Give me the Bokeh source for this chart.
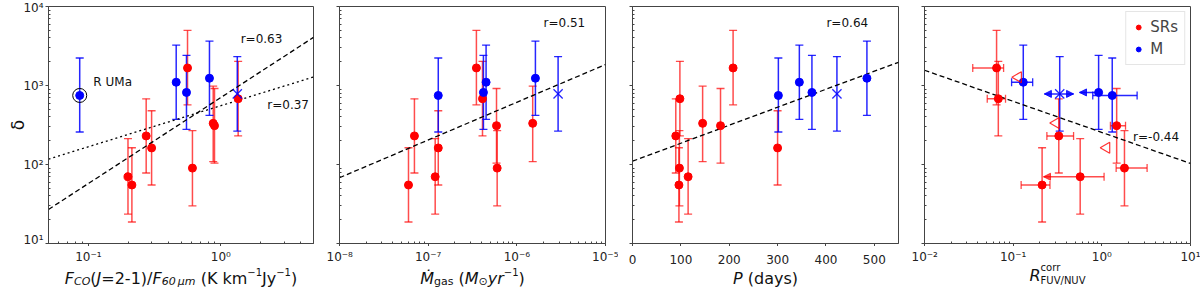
import math
from bokeh.plotting import figure
from bokeh.models import (Range1d, FixedTicker, CustomJSTickFormatter, Whisker, TeeHead,
                          NormalHead, ColumnDataSource, Label, Legend, LegendItem)
from bokeh.layouts import row, column
from bokeh.embed import file_html
from bokeh.resources import INLINE

# ---------------- data ----------------
# SR (semi-regular) stars: delta and its error range
sr_delta = [70, 55, 230, 162, 1668, 90, 332, 310, 680]
sr_delta_lo = [23.6, 18.7, 78, 55, 569, 30, 109, 104, 230]
sr_delta_hi = [212, 163, 678, 479, 4980, 268, 980, 916, 2024]
sr_fco = [0.199, 0.213, 0.273, 0.30, 0.56, 0.61, 0.875, 0.895, 1.35]
sr_mdot = [1.2e-7, 6.0e-8, 7.0e-8, 1.3e-7, 3.5e-7, 6.0e-7, 1.51e-6, 5.9e-7, 4.1e-7]
sr_period = [115, 96, 89.5, 300, 208, 97, 145, 182, 98]

# Mira stars (index 0 = R UMa)
m_delta = [748, 1100, 817, 1236]
m_delta_lo = [258, 372, 279, 419]
m_delta_hi = [2230, 3250, 2410, 3650]
m_fco = [0.086, 0.46, 0.55, 0.82]
m_mdot = [1.3e-7, 4.5e-7, 4.2e-7, 1.62e-6]
m_period = [301.6, 345, 371, 484.7]

# Mira plotted with an 'x' marker
mx_delta = [783]
mx_delta_lo = [265]
mx_delta_hi = [2323]
mx_fco = [1.33]
mx_mdot = [2.92e-6]
mx_period = [422.7]
mx_uv = [0.335]
mx_uv_lo = [0.225]
mx_uv_hi = [0.48]

# UV ratio panel
uv_sr_idx = [4, 8, 2, 7, 5, 1, 0]
uv_sr_x = [0.065, 0.068, 0.327, 1.47, 1.80, 0.212, 0.57]
uv_sr_xlo = [0.035, 0.051, 0.24, 1.25, 1.45, 0.123, 0.22]
uv_sr_xhi = [0.078, 0.082, 0.48, 1.85, 3.24, 0.26, 1.06]
uv_sr_lo_limit = [False, False, False, False, False, False, True]
uv_m_idx = [1, 2, 0]
uv_m_x = [0.13, 0.92, 1.31]
uv_m_xlo = [0.096, 0.56, 0.79]
uv_m_xhi = [0.166, 0.92, 2.5]
uv_m_lo_limit = [False, True, False]
uv_lim_x = [0.114, 0.305, 1.13]
uv_lim_y = [1275, 335, 163]

# fitted relations (end points)
fit_fco_x = [0.05, 5]
fit_fco_y = [27, 4065]
fit2_fco_y = [117, 1282]
fit_mdot_x = [1e-8, 1e-5]
fit_mdot_y = [68, 1842]
fit_period_x = [0, 550]
fit_period_y = [110, 1968]
fit_uv_x = [0.01, 10]
fit_uv_y = [1560, 103]

# tick labels
y_ticks = [10, 100, 1000, 10000]
y_labels = ["10¹", "10²", "10³", "10⁴"]
fco_ticks = [0.1, 1]
fco_labels = ["10⁻¹", "10⁰"]
mdot_ticks = [1e-8, 1e-7, 1e-6, 1e-5]
mdot_labels = ["10⁻⁸", "10⁻⁷", "10⁻⁶", "10⁻⁵"]
period_ticks = [0, 100, 200, 300, 400, 500]
period_labels = ["0", "100", "200", "300", "400", "500"]
uv_ticks = [0.01, 0.1, 1, 10]
uv_labels = ["10⁻²", "10⁻¹", "10⁰", "10¹"]

RED = "#ff0000"
BLUE = "#0000ff"
FONT = "DejaVu Sans"
FRAME = "#444444"
DASH = "5 3"
DOT = "2 3"
EMPTY = CustomJSTickFormatter(code='return "";')


def minor_log(e0, e1):
    return [m * 10.0 ** e for e in range(e0, e1) for m in range(2, 10)]


def fmt(tv, tl):
    return CustomJSTickFormatter(args=dict(tv=tv, tl=tl), code="""
        for (let i = 0; i < tv.length; i++) {
            if (Math.abs(tick - tv[i]) <= 1e-6 * Math.abs(tv[i])) return tl[i];
        }
        return "";
    """)


def style_axis(ax):
    ax.axis_line_color = FRAME
    ax.major_tick_line_color = FRAME
    ax.minor_tick_line_color = FRAME
    ax.major_tick_out = 3
    ax.major_tick_in = 0
    ax.minor_tick_out = 0
    ax.minor_tick_in = 2
    ax.major_label_text_font = FONT
    ax.major_label_text_font_size = "12px"
    ax.major_label_text_color = "#222222"


def make_fig(width, left, right, xr, xtype, xticker, ylabels=False):
    p = figure(width=width, height=246, x_range=xr, y_range=Range1d(10, 1e4),
               x_axis_type=xtype, y_axis_type="log", output_backend="svg",
               toolbar_location=None, min_border_left=left, min_border_right=right,
               min_border_top=6, min_border_bottom=3)
    p.outline_line_color = FRAME
    p.outline_line_width = 1
    p.xgrid.visible = False
    p.ygrid.visible = False
    style_axis(p.xaxis[0])
    style_axis(p.yaxis[0])
    p.xaxis[0].ticker = xticker
    p.xaxis[0].formatter = EMPTY
    p.xaxis[0].major_label_standoff = 0
    p.yaxis[0].ticker = FixedTicker(ticks=y_ticks, minor_ticks=minor_log(1, 4))
    p.yaxis[0].major_label_standoff = 2
    p.yaxis[0].formatter = fmt(y_ticks, y_labels) if ylabels else EMPTY
    return p


def make_strip(width, left, right, xr, xtype, ticks, labels):
    s = figure(width=width, height=42, x_range=xr, y_range=Range1d(0, 1),
               x_axis_type=xtype, x_axis_location="above", y_axis_location=None,
               output_backend="svg", toolbar_location=None, min_border_left=left,
               min_border_right=right, min_border_top=15, min_border_bottom=0)
    s.outline_line_color = None
    s.xgrid.visible = False
    s.ygrid.visible = False
    ax = s.xaxis[0]
    ax.ticker = FixedTicker(ticks=ticks)
    ax.formatter = fmt(ticks, labels)
    ax.axis_line_color = None
    ax.major_tick_line_color = None
    ax.minor_tick_line_color = None
    ax.major_tick_out = 0
    ax.major_tick_in = 0
    ax.minor_tick_out = 0
    ax.minor_tick_in = 0
    ax.major_label_standoff = 0
    ax.major_label_text_font = FONT
    ax.major_label_text_font_size = "12px"
    ax.major_label_text_color = "#222222"
    return s


def whisk(p, base, lo, hi, dim, color, alpha, lower="tee", upper="tee"):
    if len(base) == 0:
        return

    def head(kind):
        if kind == "tee":
            return TeeHead(size=8, line_color=color, line_alpha=alpha, line_width=1.3)
        if kind == "arrow":
            return NormalHead(size=7, line_color=color, fill_color=color,
                              line_alpha=alpha, fill_alpha=alpha)
        return None

    src = ColumnDataSource(dict(base=list(base), lo=list(lo), hi=list(hi)))
    w = Whisker(source=src, base="base", lower="lo", upper="hi", dimension=dim,
                line_color=color, line_alpha=alpha, line_width=1.5,
                lower_head=head(lower), upper_head=head(upper), level="underlay")
    p.add_layout(w)


def points(p, xs, ys, color):
    return p.scatter(xs, ys, size=8, marker="circle", fill_color=color, line_color=color)


def xmark(p, xs, ys):
    p.scatter(xs, ys, size=13, marker="x", line_color=BLUE, line_width=1.3, line_alpha=0.85)


def note(p, x, y, text, align="left"):
    p.add_layout(Label(x=x, y=y, text=text, text_font=FONT, text_font_size="12px",
                       text_baseline="middle", text_align=align, text_color="#111111"))


# width table (em) for DejaVu Sans, used to centre composed axis titles
W = {" ": .318, "(": .390, ")": .390, "/": .337, "=": .838, "-": .361, "−": .838,
     ".": .318, "μ": .636, "⊙": .838, "Ṁ": .863, "\u2009": .2}
for c in "0123456789":
    W[c] = .636
W.update({"C": .698, "F": .575, "J": .295, "K": .656, "M": .863, "N": .748, "O": .787,
          "P": .603, "R": .695, "U": .732, "V": .684, "a": .613, "c": .550, "d": .635,
          "g": .635, "k": .579, "m": .974, "o": .612, "r": .411, "s": .521, "y": .592})


def tw(t, z):
    return sum(W.get(c, .6) for c in t) * z


def title(s, frame_w, pieces, base=10):
    # pieces: (text, size, style, dy, advance); leading spaces become offsets
    total = sum(tw(t, z) for t, z, st, dy, adv in pieces if adv)
    x = frame_w / 2 - total / 2
    for t, z, st, dy, adv in pieces:
        lead = len(t) - len(t.lstrip(" "))
        x0 = x + lead * W[" "] * z
        s.add_layout(Label(x=x0, y=base + dy, x_units="screen", y_units="screen",
                           text=t.strip(" "), text_font=FONT, text_font_size=f"{z}px",
                           text_font_style=st, text_baseline="alphabetic",
                           text_align="left", text_color="#111111"))
        if adv:
            x += tw(t, z)


# ---------------- panel 1 ----------------
xr1 = Range1d(0.05, 5)
p1 = make_fig(326, 48, 13, xr1, "log",
              FixedTicker(ticks=fco_ticks, minor_ticks=minor_log(-2, 1)), ylabels=True)
p1.yaxis[0].axis_label = "δ"
p1.yaxis[0].axis_label_text_font = FONT
p1.yaxis[0].axis_label_text_font_size = "17px"
p1.yaxis[0].axis_label_text_font_style = "normal"
p1.yaxis[0].axis_label_text_color = "#111111"
p1.yaxis[0].axis_label_standoff = -8
p1.line(fit_fco_x, fit_fco_y, line_color="black", line_dash=DASH, line_width=1.3)
p1.line(fit_fco_x, fit2_fco_y, line_color="black", line_dash=DOT, line_width=1.3)
whisk(p1, sr_fco, sr_delta_lo, sr_delta_hi, "height", RED, 0.7)
whisk(p1, m_fco, m_delta_lo, m_delta_hi, "height", BLUE, 0.85)
whisk(p1, mx_fco, mx_delta_lo, mx_delta_hi, "height", BLUE, 0.85)
points(p1, sr_fco, sr_delta, RED)
points(p1, m_fco, m_delta, BLUE)
xmark(p1, mx_fco, mx_delta)
p1.scatter(m_fco[:1], m_delta[:1], size=14, marker="circle", fill_color=None,
           line_color="black", line_width=1)
note(p1, 0.109, 1100, "R UMa")
note(p1, 1.41, 3870, "r=0.63")
note(p1, 2.24, 565, "r=0.37")

s1 = make_strip(326, 48, 13, xr1, "log", fco_ticks, fco_labels)
title(s1, 265, [("F", 16, "italic", 0, True), ("CO", 11, "italic", -3, True),
                ("(", 16, "normal", 0, True), ("J", 16, "italic", 0, True),
                ("=2-1)/", 16, "normal", 0, True), ("F", 16, "italic", 0, True),
                ("60\u2009μm", 11, "italic", -3, True), (" (K km", 16, "normal", 0, True),
                ("−1", 10, "normal", 7, True), ("Jy", 16, "normal", 0, True),
                ("−1", 10, "normal", 7, True), (")", 16, "normal", 0, True)])

# ---------------- panel 2 ----------------
xr2 = Range1d(1e-8, 1e-5)
p2 = make_fig(292, 13, 13, xr2, "log",
              FixedTicker(ticks=mdot_ticks, minor_ticks=minor_log(-8, -5)))
p2.line(fit_mdot_x, fit_mdot_y, line_color="black", line_dash=DASH, line_width=1.3)
whisk(p2, sr_mdot, sr_delta_lo, sr_delta_hi, "height", RED, 0.7)
whisk(p2, m_mdot, m_delta_lo, m_delta_hi, "height", BLUE, 0.85)
whisk(p2, mx_mdot, mx_delta_lo, mx_delta_hi, "height", BLUE, 0.85)
points(p2, sr_mdot, sr_delta, RED)
points(p2, m_mdot, m_delta, BLUE)
xmark(p2, mx_mdot, mx_delta)
note(p2, 2.0e-6, 6150, "r=0.51")

s2 = make_strip(292, 13, 13, xr2, "log", mdot_ticks, mdot_labels)
title(s2, 266, [("Ṁ", 16, "italic", 0, True), ("gas", 11, "normal", -3, True),
                (" (", 16, "normal", 0, True), ("M", 16, "italic", 0, True),
                ("⊙", 11, "normal", -3, True), ("yr", 16, "italic", 0, True),
                ("−1", 10, "normal", 7, True), (")", 16, "normal", 0, True)])

# ---------------- panel 3 ----------------
xr3 = Range1d(0, 550)
p3 = make_fig(293, 14, 13, xr3, "linear", FixedTicker(ticks=period_ticks))
p3.line(fit_period_x, fit_period_y, line_color="black", line_dash=DASH, line_width=1.3)
whisk(p3, sr_period, sr_delta_lo, sr_delta_hi, "height", RED, 0.7)
whisk(p3, m_period, m_delta_lo, m_delta_hi, "height", BLUE, 0.85)
whisk(p3, mx_period, mx_delta_lo, mx_delta_hi, "height", BLUE, 0.85)
points(p3, sr_period, sr_delta, RED)
points(p3, m_period, m_delta, BLUE)
xmark(p3, mx_period, mx_delta)
note(p3, 401, 6150, "r=0.64")

s3 = make_strip(293, 14, 13, xr3, "linear", period_ticks, period_labels)
title(s3, 266, [("P", 16, "italic", 0, True), (" (days)", 16, "normal", 0, True)])

# ---------------- panel 4 ----------------
xr4 = Range1d(0.01, 10)
p4 = make_fig(289, 13, 10, xr4, "log",
              FixedTicker(ticks=uv_ticks, minor_ticks=minor_log(-2, 1)))
p4.line(fit_uv_x, fit_uv_y, line_color="black", line_dash=DASH, line_width=1.3)

uv_sr_y = [sr_delta[i] for i in uv_sr_idx]
uv_sr_ylo = [sr_delta_lo[i] for i in uv_sr_idx]
uv_sr_yhi = [sr_delta_hi[i] for i in uv_sr_idx]
uv_m_y = [m_delta[i] for i in uv_m_idx]
uv_m_ylo = [m_delta_lo[i] for i in uv_m_idx]
uv_m_yhi = [m_delta_hi[i] for i in uv_m_idx]

whisk(p4, uv_sr_x, uv_sr_ylo, uv_sr_yhi, "height", RED, 0.7)
for flag, lower in ((False, "tee"), (True, "arrow")):
    sel = [k for k, f in enumerate(uv_sr_lo_limit) if f == flag]
    whisk(p4, [uv_sr_y[k] for k in sel], [uv_sr_xlo[k] for k in sel],
          [uv_sr_xhi[k] for k in sel], "width", RED, 0.7, lower=lower, upper="tee")
whisk(p4, uv_m_x, uv_m_ylo, uv_m_yhi, "height", BLUE, 0.85)
for flag, lower, upper in ((False, "tee", "tee"), (True, "arrow", None)):
    sel = [k for k, f in enumerate(uv_m_lo_limit) if f == flag]
    whisk(p4, [uv_m_y[k] for k in sel], [uv_m_xlo[k] for k in sel],
          [uv_m_xhi[k] for k in sel], "width", BLUE, 0.85, lower=lower, upper=upper)
whisk(p4, mx_uv, mx_delta_lo, mx_delta_hi, "height", BLUE, 0.85)
whisk(p4, mx_delta, mx_uv_lo, mx_uv_hi, "width", BLUE, 0.85, lower="arrow", upper="arrow")

r_sr = points(p4, uv_sr_x, uv_sr_y, RED)
r_m = points(p4, uv_m_x, uv_m_y, BLUE)
xmark(p4, mx_uv, mx_delta)
p4.scatter(uv_lim_x, uv_lim_y, size=11, marker="triangle", angle=math.pi / 2,
           fill_color=None, line_color=RED, line_width=1.2, line_alpha=0.8)
note(p4, 2.25, 223, "r=-0.44")

legend = Legend(items=[LegendItem(label="SRs", renderers=[r_sr], index=0),
                       LegendItem(label="M", renderers=[r_m], index=0)],
                location="top_right", label_text_font=FONT, label_text_font_size="15px",
                glyph_width=12, glyph_height=16, label_height=18, label_standoff=6,
                padding=6, spacing=4, margin=5, border_line_color="#cccccc",
                background_fill_alpha=0.85)
p4.add_layout(legend)

s4 = make_strip(289, 13, 10, xr4, "log", uv_ticks, uv_labels)
title(s4, 266, [("R", 16, "italic", 0, True), ("corr", 10, "normal", 8, False),
                ("FUV/NUV", 10, "normal", -5, True)], base=13)

layout = column(row(p1, p2, p3, p4), row(s1, s2, s3, s4))
open("out.html", "w").write(file_html(layout, INLINE))
